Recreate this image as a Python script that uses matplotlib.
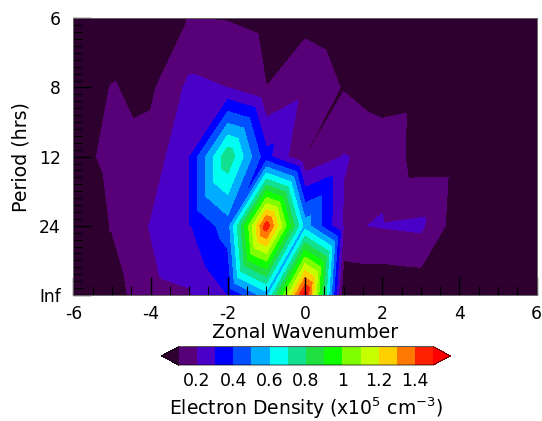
import numpy as np
import matplotlib
matplotlib.use('Agg')
import matplotlib.pyplot as plt
import matplotlib.tri as mtri
from matplotlib.colors import ListedColormap
from matplotlib.ticker import MultipleLocator

plt.rcParams['font.family'] = ['DejaVu Sans']
plt.rcParams['axes.unicode_minus'] = False

## data: zonal wavenumber x frequency (cycles/day) grid
wavenumber = [-6, -5, -4, -3, -2, -1, 0, 1, 2, 3, 4, 5, 6]
frequency = [0, 1, 2, 3, 4]
period_labels = ['Inf', '24', '12', '8', '6']

# electron density (x1e5 cm^-3), one list per frequency row
dens_inf = [0.03, 0.053, 0.17, 0.19, 0.30, 0.55, 1.55, 0.01, 0.01, 0.02, 0.02, 0.02, 0.02]
dens_24h = [0.02, 0.105, 0.205, 0.29, 0.45, 1.47, 0.55, 0.19, 0.206, 0.22, 0.03, 0.02, 0.02]
dens_12h = [0.064, 0.124, 0.14, 0.29, 0.78, 0.33, 0.099, 0.205, 0.173, 0.05, 0.05, 0.03, 0.02]
dens_8h = [0.04, 0.104, 0.08, 0.223, 0.199, 0.101, 0.17, 0.093, 0.041, 0.057, 0.03, 0.02, 0.02]
dens_6h = [0.02, 0.03, 0.06, 0.102, 0.095, 0.072, 0.07, 0.04, 0.03, 0.02, 0.02, 0.02, 0.02]

levels = [0.1, 0.2, 0.3, 0.4, 0.5, 0.6, 0.7, 0.8, 0.9, 1.0, 1.1, 1.2, 1.3, 1.4, 1.5]
cbar_ticks = [0.2, 0.4, 0.6, 0.8, 1.0, 1.2, 1.4]
cbar_ticklabels = ['0.2', '0.4', '0.6', '0.8', '1', '1.2', '1.4']

colors = ['#580078', '#4b00c8', '#0000ff', '#0050ff', '#00acff', '#00fff0',
          '#10e090', '#20e040', '#10ff00', '#80ff00', '#c8ff00', '#ffd000',
          '#ff7800', '#ff2000']
cmap = ListedColormap(colors)
cmap.set_under('#2e0030')
cmap.set_over('#ff0000')

## build grid + triangles (diagonal from lower-left to upper-right)
X, Y = np.meshgrid(wavenumber, frequency)
Z = np.array([dens_inf, dens_24h, dens_12h, dens_8h, dens_6h])
nx, ny = len(wavenumber), len(frequency)
triangles = []
for j in range(ny - 1):
    for i in range(nx - 1):
        ll = j * nx + i
        lr = ll + 1
        ul = ll + nx
        ur = ul + 1
        triangles.append([ll, lr, ur])
        triangles.append([ll, ur, ul])
tri = mtri.Triangulation(X.ravel(), Y.ravel(), triangles)

## visualization
fig = plt.figure(figsize=(5.42, 4.21), dpi=100)
ax = fig.add_axes([0.1352, 0.2993, 0.855, 0.6572])
cs = ax.tricontourf(tri, Z.ravel(), levels=levels, cmap=cmap, extend='both')

ax.set_xlim(-6, 6)
ax.set_ylim(0, 4)
ax.set_xticks([-6, -4, -2, 0, 2, 4, 6])
ax.xaxis.set_minor_locator(MultipleLocator(0.5))
ax.set_yticks(frequency)
ax.set_yticklabels(period_labels)
ax.yaxis.set_minor_locator(MultipleLocator(0.1))
ax.tick_params(which='both', direction='in', top=False, right=False, labelsize=12.3)
ax.tick_params(which='major', length=13, width=1.0)
ax.tick_params(which='minor', length=6.5, width=0.8)
ax.tick_params(axis='x', pad=7)
ax.tick_params(axis='y', pad=9)
for sp in ax.spines.values():
    sp.set_linewidth(0.7)
    sp.set_color('#666666')
ax.set_xlabel('Zonal Wavenumber', fontsize=13.7, labelpad=0)
ax.set_ylabel('Period (hrs)', fontsize=13.7, labelpad=6)

cax = fig.add_axes([0.298, 0.133, 0.533, 0.0435])
cb = fig.colorbar(cs, cax=cax, orientation='horizontal', extendfrac=0.067)
cb.set_ticks(cbar_ticks)
cb.set_ticklabels(cbar_ticklabels)
cb.ax.tick_params(length=0, labelsize=12.5, pad=5)
cb.outline.set_linewidth(0.5)
cb.set_label('Electron Density (x10$^5$ cm$^{-3}$)', fontsize=13.5, labelpad=4)

plt.savefig('out.png', dpi=100)
